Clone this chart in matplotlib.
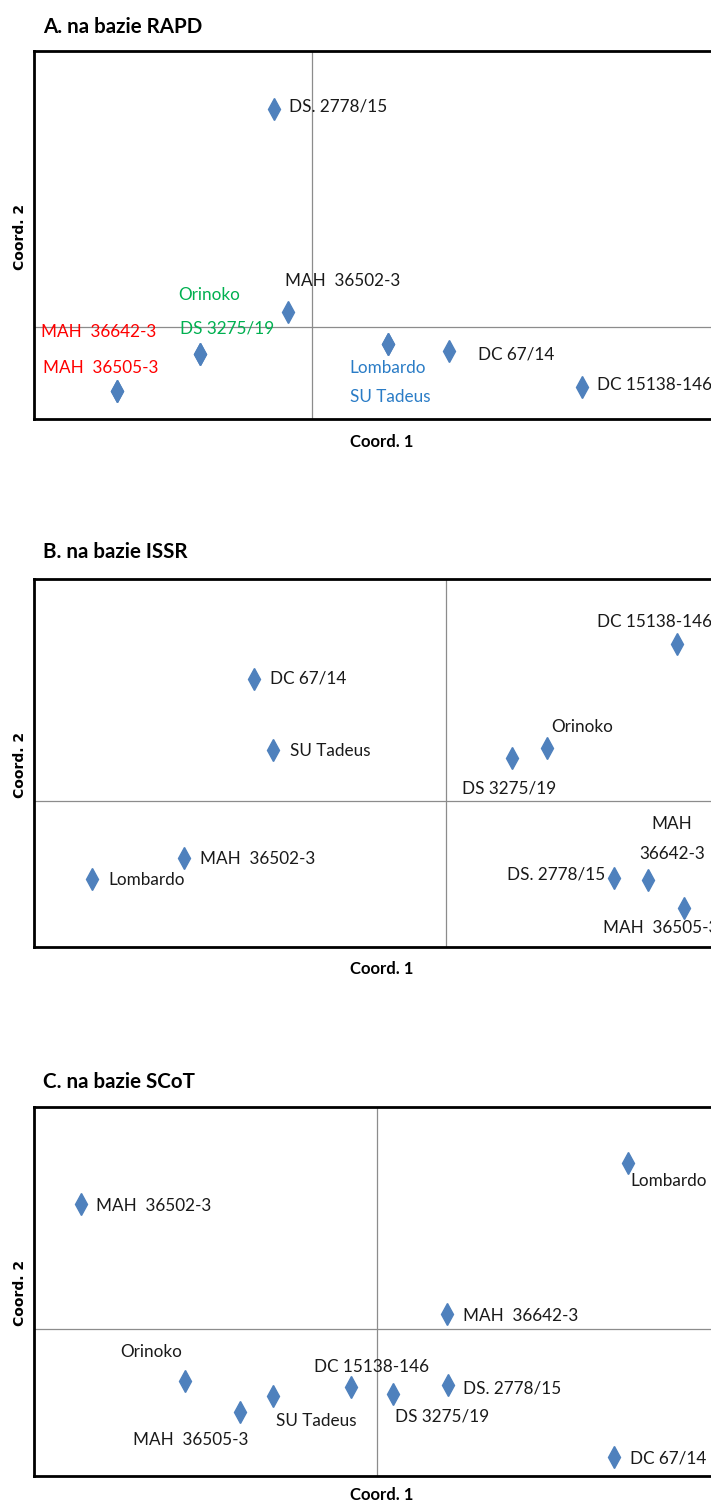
import matplotlib
matplotlib.use("Agg")
import matplotlib.pyplot as plt

# ---------------- data ----------------
# Panel A (RAPD)
a_names = ["DS. 2778/15", "MAH  36502-3", "Orinoko", "DS 3275/19", "MAH  36642-3",
           "MAH  36505-3", "Lombardo", "SU Tadeus", "DC 67/14", "DC 15138-146"]
a_x = [-0.038, -0.024, -0.112, -0.112, -0.195, -0.195, 0.076, 0.076, 0.137, 0.270]
a_y = [0.218, 0.015, -0.027, -0.027, -0.064, -0.064, -0.017, -0.017, -0.024, -0.060]

# Panel B (ISSR)
b_names = ["DC 15138-146", "DC 67/14", "SU Tadeus", "Orinoko", "DS 3275/19",
           "MAH  36502-3", "Lombardo", "DS. 2778/15", "MAH\n36642-3", "MAH  36505-3"]
b_x = [0.231, -0.192, -0.173, 0.101, 0.066, -0.262, -0.354, 0.168, 0.202, 0.238]
b_y = [0.157, 0.122, 0.051, 0.053, 0.043, -0.057, -0.078, -0.077, -0.079, -0.107]

# Panel C (SCoT)
c_names = ["Lombardo", "MAH  36502-3", "MAH  36642-3", "Orinoko", "DC 15138-146",
           "DS 3275/19", "DS. 2778/15", "SU Tadeus", "MAH  36505-3", "DC 67/14"]
c_x = [0.251, -0.296, 0.070, -0.192, -0.026, 0.016, 0.071, -0.104, -0.137, 0.237]
c_y = [0.166, 0.125, 0.015, -0.052, -0.058, -0.065, -0.056, -0.067, -0.083, -0.128]

titles = ["A. na bazie RAPD", "B. na bazie ISSR", "C. na bazie SCoT"]
xlabel = "Coord. 1"
ylabel = "Coord. 2"

# ---------------- styling ----------------
W, H = 711, 1506
RED, GREEN, BLUE, BLACK = "#FF0000", "#00B050", "#2A7CC6", "#1A1A1A"
MARKER = "#4F81BD"
FONT = ["Lato", "DejaVu Sans"]
plt.rcParams["font.family"] = FONT

# label offsets in pixels (dx, dy up), horizontal alignment, colour
a_style = [(15, 2, "left", BLACK), (-3, 31, "left", BLACK), (-22, 59, "left", GREEN),
           (-20, 25, "left", GREEN), (-76, 59, "left", RED), (-74, 23, "left", RED),
           (-39, -24, "left", BLUE), (-38, -53, "left", BLUE), (29, -3, "left", BLACK),
           (15, 2, "left", BLACK)]
b_style = [(-80, 22, "left", BLACK), (16, 0, "left", BLACK), (17, -1, "left", BLACK),
           (4, 21, "left", BLACK), (-50, -30, "left", BLACK), (16, -1, "left", BLACK),
           (16, -1, "left", BLACK), (-9, 4, "right", BLACK), (24, 41, "center", BLACK),
           (-81, -20, "left", BLACK)]
c_style = [(2, -18, "left", BLACK), (15, -2, "left", BLACK), (16, -2, "left", BLACK),
           (-65, 29, "left", BLACK), (-37, 20, "left", BLACK), (2, -23, "left", BLACK),
           (15, -3, "left", BLACK), (3, -25, "left", BLACK), (-107, -28, "left", BLACK),
           (16, -1, "left", BLACK)]

panels = [
    dict(names=a_names, x=a_x, y=a_y, style=a_style, top=51, bottom=419,
         xlim=(-0.278, 0.418), ylim=(-0.092, 0.276), title_y=27, xl_y=442, yl_y=237),
    dict(names=b_names, x=b_x, y=b_y, style=b_style, top=579, bottom=947,
         xlim=(-0.412, 0.284), ylim=(-0.146, 0.222), title_y=552, xl_y=969, yl_y=765),
    dict(names=c_names, x=c_x, y=c_y, style=c_style, top=1107, bottom=1476,
         xlim=(-0.343, 0.353), ylim=(-0.147, 0.222), title_y=1082, xl_y=1495, yl_y=1293),
]

fig = plt.figure(figsize=(W / 100, H / 100), dpi=100)
LEFT, RIGHT = 34, 730
for i, p in enumerate(panels):
    ax = fig.add_axes([LEFT / W, 1 - p["bottom"] / H, (RIGHT - LEFT) / W,
                       (p["bottom"] - p["top"]) / H])
    ax.set_xlim(*p["xlim"])
    ax.set_ylim(*p["ylim"])
    ax.axhline(0, color="#8C8C8C", lw=0.9, zorder=1)
    ax.axvline(0, color="#8C8C8C", lw=0.9, zorder=1)
    ax.plot(p["x"], p["y"], linestyle="none", marker="d", markersize=11,
            color=MARKER, zorder=3, clip_on=False)
    for name, xv, yv, (dx, dy, ha, col) in zip(p["names"], p["x"], p["y"], p["style"]):
        ax.annotate(name, (xv, yv), xytext=(dx, dy), textcoords="offset pixels",
                    ha=ha, va="center", fontsize=12.3, color=col,
                    linespacing=2.05, annotation_clip=False)
    ax.set_xticks([])
    ax.set_yticks([])
    for side in ["left", "top", "bottom"]:
        ax.spines[side].set_linewidth(2.0)
        ax.spines[side].set_color("black")
    ax.spines["right"].set_visible(False)

    fig.text(43 / W, 1 - p["title_y"] / H, titles[i], ha="left", va="center",
             fontsize=14.8, fontweight="bold")
    fig.text(382 / W, 1 - p["xl_y"] / H, xlabel, ha="center", va="center",
             fontsize=12, fontweight="bold")
    fig.text(20 / W, 1 - p["yl_y"] / H, ylabel, ha="center", va="center",
             rotation=90, fontsize=10, fontweight="bold", family="DejaVu Sans")

fig.savefig("out.png", dpi=100)
